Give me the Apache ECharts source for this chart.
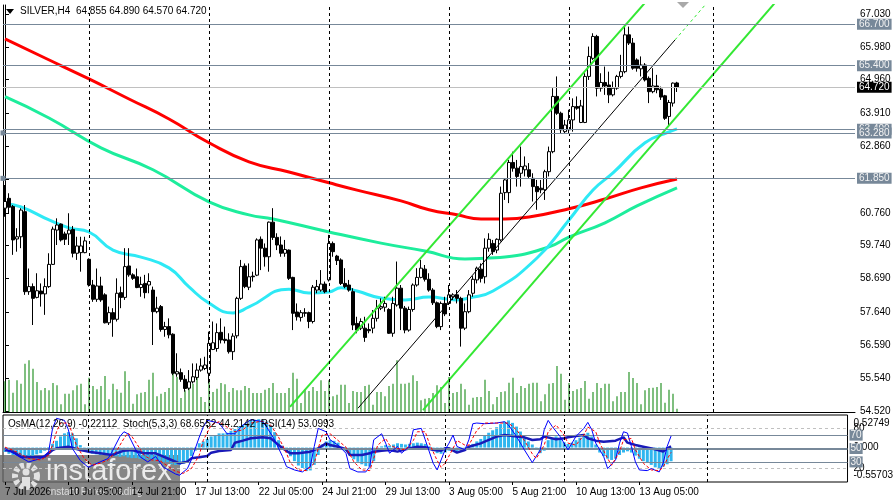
<!DOCTYPE html>
<html>
<head>
<meta charset="utf-8">
<script src="https://cdn.jsdelivr.net/npm/echarts@6/dist/echarts.min.js"></script>
<style>
html, body { margin: 0; padding: 0; background: #fff; }
#main { width: 896px; height: 500px; }
</style>
</head>
<body>
<div id="main"></div>
<script>
// SILVER H4 bars, [open, high, low, close]
var ohlc = [
  [60.91,61.64,60.64,61.12],[61.22,61.38,60.75,60.94],[60.96,61.01,59.44,59.91],[59.94,60.28,59.54,60.01],[60.01,60.91,59.65,60.85],
  [60.80,61.01,58.18,58.28],[58.28,59.01,58.18,58.44],[58.44,58.54,57.23,58.07],[58.10,58.86,58.07,58.31],[58.30,58.54,57.81,58.21],
  [58.21,58.70,57.55,58.44],[58.44,59.49,58.40,59.14],[59.14,60.33,59.12,60.25],[60.22,60.59,59.75,60.38],[60.41,60.43,59.86,59.91],
  [60.10,60.17,59.75,59.93],[60.10,60.75,59.75,60.22],[60.24,60.35,59.36,59.49],[59.49,60.01,59.28,59.72],[59.51,60.01,58.91,59.72],
  [59.51,60.01,59.49,59.88],[59.30,59.33,58.44,58.49],[58.49,58.65,57.96,58.04],[58.04,59.01,57.96,58.46],[58.46,58.75,57.96,58.02],
  [58.18,58.23,57.28,57.30],[57.30,57.81,57.23,57.62],[57.62,57.76,56.86,57.41],[57.41,58.70,57.34,58.23],[58.25,58.44,57.76,58.10],
  [58.10,59.65,58.02,59.07],[59.09,59.65,58.75,58.81],[58.81,58.86,58.65,58.70],[58.75,59.01,58.39,58.41],[58.41,58.75,58.12,58.51],
  [58.54,58.81,58.07,58.25],[58.49,58.86,58.23,58.60],[58.33,58.44,56.60,57.65],[57.65,58.12,57.60,57.76],[57.81,57.86,57.02,57.09],
  [57.09,57.33,56.86,57.18],[57.18,57.44,56.81,56.92],[56.94,56.97,55.65,55.71],[55.69,56.34,55.60,55.76],[55.73,55.86,55.44,55.52],
  [55.52,55.65,55.13,55.23],[55.24,55.81,55.18,55.44],[55.44,56.02,55.39,55.60],[55.58,56.02,55.50,55.81],[55.81,56.18,55.76,55.94],
  [55.86,56.23,55.81,55.97],[55.71,57.02,55.39,56.65],[56.46,57.34,56.44,56.67],[56.49,57.28,56.39,56.99],[57.00,57.44,56.65,56.76],
  [56.78,57.18,56.65,56.74],[56.76,56.97,56.33,56.39],[56.39,56.97,56.13,56.88],[56.89,58.12,56.81,58.07],[58.07,59.28,58.02,59.07],
  [59.09,59.17,58.39,58.44],[58.42,59.17,58.33,58.75],[58.77,58.91,58.60,58.75],[58.80,59.96,58.77,59.91],[59.93,60.02,58.96,59.65],
  [59.65,59.80,59.07,59.38],[59.38,60.49,58.91,60.47],[60.47,60.91,59.91,59.99],[59.99,60.12,59.59,59.75],[59.75,60.02,59.38,59.49],
  [59.49,59.91,59.38,59.61],[59.59,59.61,58.65,58.70],[58.73,58.75,57.07,57.60],[57.64,57.91,57.37,57.49],[57.47,57.70,57.34,57.62],
  [57.62,57.76,57.49,57.60],[57.62,57.65,57.13,57.34],[57.34,58.49,57.28,58.42],[58.33,58.65,58.23,58.44],[58.33,58.96,58.28,58.52],
  [58.52,58.60,58.23,58.28],[58.65,60.07,58.60,59.80],[59.80,59.86,59.38,59.54],[59.40,59.44,59.12,59.26],[59.28,59.33,58.49,58.54],
  [58.54,59.02,58.39,58.44],[58.49,58.65,58.28,58.33],[58.28,58.39,57.07,57.23],[57.28,57.49,56.97,57.07],[57.13,57.44,57.07,57.34],
  [57.13,57.49,56.70,56.84],[57.09,57.28,56.97,57.05],[57.13,57.70,56.97,57.44],[57.44,58.02,57.34,57.76],[57.76,58.07,57.70,57.81],
  [57.79,58.12,57.65,57.91],[57.72,57.76,56.95,56.97],[56.97,58.12,56.86,57.91],[57.86,59.23,57.81,58.39],[58.39,58.49,57.07,57.76],
  [57.76,57.83,56.97,57.07],[57.07,57.81,57.02,57.72],[57.72,58.54,57.65,58.49],[58.49,59.02,58.44,58.73],[58.73,59.28,58.70,59.02],
  [58.99,59.12,58.60,58.67],[58.67,58.86,58.28,58.33],[58.33,58.39,57.86,57.93],[57.93,57.97,57.13,57.18],[57.18,57.97,57.07,57.91],
  [57.91,58.12,57.51,57.58],[57.91,58.49,57.86,58.18],[58.12,58.23,58.02,58.18],[58.18,58.33,57.91,58.07],[58.07,58.12,56.55,57.13],
  [57.13,57.91,57.07,57.65],[57.65,58.33,57.60,58.18],[58.23,58.77,58.12,58.67],[58.65,59.07,58.54,59.02],[58.99,59.17,58.57,58.70],
  [58.75,59.96,58.54,59.65],[59.65,60.12,59.54,59.93],[59.80,59.91,59.44,59.54],[59.59,59.96,59.49,59.93],[59.91,61.59,59.86,61.38],
  [61.40,61.85,61.17,61.80],[61.40,62.43,61.07,62.35],[62.35,62.69,62.06,62.17],[62.17,62.43,61.59,61.91],[62.01,62.85,61.59,62.22],
  [62.12,62.54,61.91,62.24],[62.12,62.33,61.85,61.91],[61.85,62.01,61.12,61.59],[61.59,61.80,60.86,61.43],[61.54,61.80,61.38,61.49],
  [61.49,62.12,61.17,62.06],[62.06,62.85,61.91,62.69],[62.69,64.69,62.64,64.43],[64.43,65.06,63.85,63.90],[63.90,63.95,63.27,63.38],
  [63.32,63.69,63.27,63.53],[63.38,64.01,63.27,63.69],[63.69,64.37,63.32,64.11],[64.11,64.43,64.01,64.06],[63.61,64.32,63.59,64.13],
  [63.61,65.16,63.59,65.06],[65.06,66.00,64.95,65.69],[65.63,66.42,65.58,66.32],[66.32,66.37,64.43,64.69],[64.69,65.16,64.58,64.87],
  [64.87,65.37,64.48,64.76],[64.79,65.21,64.22,64.48],[64.48,64.90,64.43,64.69],[64.69,65.11,64.64,65.06],[65.06,65.74,65.00,65.21],
  [65.21,66.65,65.16,66.37],[66.37,66.63,66.05,66.11],[66.11,66.27,65.27,65.32],[65.58,65.63,65.21,65.32],[65.30,65.69,65.06,65.42],
  [65.42,65.48,64.90,64.95],[65.00,65.06,64.22,64.58],[64.58,65.32,64.53,64.76],[64.76,65.11,64.53,64.64],[64.66,64.74,64.32,64.41],
  [64.45,64.48,63.69,63.74],[63.80,64.32,63.53,64.24],[64.22,64.87,64.11,64.85],[64.855,64.89,64.57,64.72]
];

// tick volumes
var volumes = [
  3070,3230,1930,3170,2830,4830,5170,4330,3000,2170,2400,2170,2900,2670,770,1830,1830,2170,2670,2830,
  770,3430,2600,2270,2600,3600,1270,2830,2270,1930,4070,3100,830,1770,1930,2000,3230,3930,1570,1830,
  2000,2400,3930,3500,1400,2170,2500,2830,3500,1500,1000,3000,2000,2330,2900,2770,2000,2400,2170,2170,
  2600,2400,1900,1900,1900,2230,2400,2900,1900,1900,1900,2400,3930,3330,900,2270,2100,2500,2100,3170,
  2100,3170,1570,1730,2730,2730,900,2100,2000,2000,2600,2730,730,2000,2000,1570,2600,2830,5170,2830,
  2830,2930,3670,3100,1170,1330,1400,1900,2670,2500,900,3500,1900,2000,2830,2270,730,1430,1500,1500,
  3230,2100,770,1500,2000,2070,2930,3430,1900,2600,2400,2830,2930,2930,1070,1770,2830,2900,4600,3830,
  1230,2900,2100,2270,2400,3100,1330,2000,2900,2400,2830,2830,1070,1570,2000,2000,4000,3400,2900,770,
  2170,2400,2430,2500,2900,930,2230,1830,330
];

// moving averages, [bar index, price]
var maRed = [[0,66.24],[10,65.64],[21,64.98],[31,64.35],[41,63.72],[51,62.97],[61,62.37],[71,62.05],[81,61.71],[88,61.48],
  [99,61.14],[106,60.86],[113,60.70],[119,60.57],[125,60.57],[131,60.63],[141,60.89],[150,61.20],[159,61.55],[168,61.83]];
var maGreen = [[0,64.42],[11,63.75],[24,62.81],[37,62.12],[51,61.11],[61,60.70],[67,60.57],[81,60.16],[94,59.81],[105,59.56],
  [115,59.31],[121,59.34],[125,59.37],[136,59.69],[141,60.00],[150,60.45],[158,60.98],[168,61.55]];
var maCyan = [[0,61.04],[4,60.95],[11,60.54],[16,60.29],[21,60.16],[27,59.59],[34,59.37],[41,59.03],[46,58.43],[51,57.92],
  [57,57.61],[61,57.80],[71,58.36],[76,58.24],[81,58.27],[84,58.40],[88,58.30],[94,58.08],[100,58.02],[106,58.11],
  [113,58.02],[116,58.08],[122,58.30],[133,59.34],[141,60.54],[147,61.48],[152,62.02],[160,62.97],[166,63.31],[168,63.41]];

// equidistant channel, [bar index, price]
var chanUpper = [[71.25,54.65],[160,67.38]];
var chanMiddle = [[88.25,54.61],[167.5,66.21]];
var chanMiddleExt = [[167.5,66.21],[175.5,67.38]];
var chanLower = [[104.5,54.55],[192.5,67.38]];

// horizontal levels
var levels = [66.70, 65.40, 63.40, 63.28, 61.85];
var selectedLevels = [63.28, 61.85];
var lastPrice = 64.72;

// indicators
var osma = [
  -0.07,-0.10,-0.12,-0.13,-0.12,-0.13,-0.14,-0.13,-0.11,-0.09,-0.05,0.01,0.06,0.11,0.18,0.23,0.25,0.23,0.15,0.04,
  -0.04,-0.08,-0.10,-0.11,-0.12,-0.12,-0.13,-0.14,-0.14,-0.15,-0.14,-0.16,-0.17,-0.17,-0.18,-0.19,-0.19,-0.20,-0.21,-0.22,
  -0.23,-0.25,-0.27,-0.28,-0.28,-0.26,-0.22,-0.14,-0.05,0.07,0.10,0.14,0.18,0.20,0.23,0.23,0.24,0.27,0.30,0.34,
  0.37,0.39,0.44,0.45,0.46,0.45,0.42,0.36,0.25,0.12,0.03,-0.06,-0.14,-0.22,-0.29,-0.33,-0.38,-0.37,-0.28,-0.12,
  0.05,0.10,0.12,0.11,0.08,0.01,-0.06,-0.13,-0.19,-0.23,-0.27,-0.30,-0.31,-0.22,-0.05,0.02,0.04,0.03,0.05,0.07,
  0.06,0.05,0.06,0.07,0.08,0.07,0.06,0.02,-0.05,-0.09,-0.10,-0.08,-0.05,-0.04,-0.06,-0.05,-0.02,0.02,0.06,0.10,
  0.14,0.20,0.24,0.28,0.33,0.38,0.42,0.44,0.40,0.34,0.26,0.17,0.10,0.05,-0.01,-0.09,-0.05,0.12,0.15,0.18,
  0.14,0.09,0.06,0.08,0.12,0.16,0.20,0.24,0.18,0.05,-0.08,-0.14,-0.18,-0.20,-0.18,-0.12,-0.08,-0.06,-0.08,-0.13,
  -0.18,-0.22,-0.25,-0.28,-0.32,-0.33,-0.31,-0.27,-0.22112
];
var stochMain = [[0,50],[3,40],[6,30],[9,35],[11,45],[12,80],[13,95],[15,92],[16,78],[17,50],[19,32],[21,22],[24,30],[26,35],
  [27,45],[29,68],[30,75],[31,72],[33,48],[34,38],[36,30],[38,38],[40,22],[43,12],[44,10],[46,20],[47,33],[49,67],[50,82],
  [51,92],[54,88],[56,72],[58,72],[60,85],[62,93],[65,90],[66,82],[68,63],[70,38],[71,23],[73,18],[75,15],[77,23],[78,53],
  [79,80],[81,75],[82,63],[84,55],[86,43],[87,20],[89,15],[91,15],[92,23],[93,63],[95,72],[96,58],[97,43],[99,53],[100,43],
  [102,53],[103,78],[105,80],[106,63],[108,28],[109,18],[111,48],[112,58],[113,70],[114,53],[116,48],[117,63],[118,87],
  [119,88],[121,87],[124,88],[126,90],[127,85],[129,68],[131,48],[133,29],[135,48],[136,78],[137,92],[138,83],[140,68],
  [141,58],[142,48],[144,68],[146,80],[147,89],[148,78],[149,58],[151,38],[152,20],[154,33],[155,58],[156,75],[157,73],
  [158,53],[159,30],[160,18],[162,17],[163,20],[165,15],[166,28],[167,53],[168,68.6552]];
var stochSignal = [[0,52],[3,45],[6,35],[9,33],[11,40],[12,55],[13,75],[14,88],[16,88],[17,72],[18,55],[20,35],[22,25],
  [24,28],[26,33],[28,45],[30,65],[31,73],[32,68],[34,50],[35,40],[37,33],[39,32],[41,24],[43,16],[45,13],[47,20],[49,40],
  [50,62],[52,85],[54,90],[56,82],[58,75],[60,78],[62,88],[65,91],[67,85],[69,67],[71,43],[72,28],[74,18],[76,17],[78,28],
  [79,50],[80,70],[82,72],[84,62],[86,52],[88,30],[90,18],[92,17],[93,35],[94,55],[96,65],[97,55],[99,50],[101,48],[103,62],
  [104,75],[106,75],[107,58],[109,32],[110,22],[111,28],[113,50],[114,62],[116,55],[117,55],[119,77],[121,88],[124,88],
  [127,88],[129,78],[131,62],[133,42],[134,35],[136,55],[137,75],[139,85],[141,70],[142,58],[144,55],[146,70],[147,82],
  [149,75],[150,58],[152,35],[153,25],[155,45],[156,63],[158,65],[159,48],[161,28],[163,18],[165,17],[166,22],[167,34],
  [168,44.2142]];
var rsi = [[0,47.8],[2,45.3],[4,37.8],[7,36.8],[10,37.8],[12,47.8],[13,50.3],[16,52.7],[19,47.8],[21,45.3],[24,42.8],
  [27,40.3],[30,46.8],[32,47.8],[35,42.8],[38,42.8],[42,32.8],[44,27.9],[46,30.4],[47,35.3],[49,36.8],[51,38.8],[52,43.8],
  [54,46.3],[57,47.8],[58,58.7],[60,61.7],[62,65.2],[65,66.7],[67,65.2],[68,60.2],[70,50.3],[72,42.8],[74,42.8],[77,45.3],
  [79,50.3],[81,57.7],[82,55.2],[84,52.7],[86,48.8],[87,40.3],[90,40.3],[92,42.8],[93,45.3],[95,46.8],[97,47.8],[99,45.3],
  [101,48.8],[104,52.7],[106,51.8],[108,47.8],[110,46.8],[111,50.3],[112,50.3],[114,43.8],[116,47.8],[117,52.7],[120,57.7],
  [121,60.2],[124,67.7],[126,70.2],[128,68.7],[131,66.7],[133,62.7],[135,63.7],[136,67.7],[139,63.7],[141,65.2],[142,66.7],
  [144,68.7],[146,70.2],[147,65.2],[149,61.7],[151,60.2],[154,61.7],[156,66.7],[157,58.7],[159,55.2],[161,52.7],[164,48.8],
  [166,45.3],[167,50.3],[168,53.0993]];

// axes
var priceTicks = [67.03, 65.98, 64.96, 63.91, 62.86, 61.81, 60.76, 59.74, 58.69, 57.64, 56.59, 55.54, 54.52];
var priceMin = 54.49, priceMax = 67.31;
var osmaMin = -0.55703, osmaMax = 0.52749;
var osmaLabelAt = [0.40, 0, -0.45];
var stochLabels = [80, 20];
var weekLines = [21, 51, 81, 111, 141, 177];
var xLabels = ['7 Jul 2026', '10 Jul 05:00', '14 Jul 21:00', '17 Jul 13:00', '22 Jul 05:00', '24 Jul 21:00',
  '29 Jul 13:00', '3 Aug 05:00', '5 Aug 21:00', '10 Aug 13:00', '13 Aug 05:00'];
var labelEvery = 16;
var nCats = 213;

var FONT = 'Liberation Sans';
var SLATE = '#778899';

var cats = [];
for (var i = 0; i < nCats; i++) cats.push(i);

var candleData = ohlc.map(function (r) { return [r[0], r[3], r[2], r[1]]; });
var last = ohlc[ohlc.length - 1];
var f3 = function (v) { return v.toFixed(3); };

var levelMarks = levels.map(function (v) {
  var item = { yAxis: v };
  if (selectedLevels.indexOf(v) >= 0) item.symbol = ['emptyRect', 'emptyRect'];
  return item;
});
levelMarks.push({
  yAxis: lastPrice,
  lineStyle: { color: '#c0c0c0', type: 'solid', width: 1 },
  label: { backgroundColor: '#000', color: '#fff' }
});

var weekMarks = weekLines.map(function (v) { return { xAxis: v }; });
var weekLineStyle = { color: '#000', type: [3, 3], width: 1 };

function labelFilter(idx) { return idx % labelEvery === 0 && idx / labelEvery < xLabels.length; }

var myChart = echarts.init(document.getElementById('main'));

var option = {
  animation: false,
  backgroundColor: '#fff',
  textStyle: { fontFamily: FONT },
  grid: [
    { left: 3, top: 5, width: 852, height: 407 },
    { left: 3, top: 415, width: 852, height: 67, show: true, borderColor: '#000', borderWidth: 1, backgroundColor: '#fff' }
  ],
  xAxis: [
    { gridIndex: 0, type: 'category', data: cats, boundaryGap: true,
      axisLine: { show: true, lineStyle: { color: '#000' } }, axisTick: { show: false }, axisLabel: { show: false }, splitLine: { show: false } },
    { gridIndex: 0, type: 'value', min: -0.5, max: nCats - 0.5, show: false },
    { gridIndex: 1, type: 'category', data: cats, boundaryGap: true,
      axisLine: { show: false },
      axisTick: { show: true, interval: labelFilter, alignWithLabel: true, length: 3, lineStyle: { color: '#000' } },
      axisLabel: { show: true, interval: labelFilter, align: 'left', margin: 5, fontSize: 10, color: '#000',
        formatter: function (v, idx) { return xLabels[idx / labelEvery]; } },
      splitLine: { show: false } },
    { gridIndex: 1, type: 'value', min: -0.5, max: nCats - 0.5, show: false }
  ],
  yAxis: [
    { gridIndex: 0, type: 'value', position: 'right', min: priceMin, max: priceMax,
      splitLine: { show: false },
      axisLine: { show: true, lineStyle: { color: '#000' } },
      axisTick: { show: true, customValues: priceTicks, length: 4, lineStyle: { color: '#000' } },
      axisLabel: { customValues: priceTicks, formatter: f3, color: '#000', fontSize: 10, margin: 5 } },
    { gridIndex: 0, type: 'value', position: 'left', min: 0, max: 40700,
      splitLine: { show: false }, axisLabel: { show: false }, axisTick: { show: false },
      axisLine: { show: true, lineStyle: { color: '#000' } } },
    { gridIndex: 1, type: 'value', position: 'right', min: 0, max: 100,
      splitLine: { show: false }, axisLine: { show: false },
      axisTick: { show: false },
      axisLabel: { customValues: stochLabels, color: '#000', fontSize: 10, margin: 6 } },
    { gridIndex: 1, type: 'value', position: 'right', min: osmaMin, max: osmaMax,
      splitLine: { show: false }, axisLine: { show: false }, axisTick: { show: false },
      axisLabel: { customValues: osmaLabelAt, color: '#000', fontSize: 10, margin: 6,
        formatter: function (v) { return v > 0 ? osmaMax.toFixed(5) : (v < 0 ? osmaMin.toFixed(5) : '0.000'); } } }
  ],
  series: [
    { type: 'bar', name: 'Volume', xAxisIndex: 0, yAxisIndex: 1, data: volumes, barWidth: 1,
      itemStyle: { color: '#008000' }, silent: true, z: 1 },
    { type: 'line', name: 'MA red', xAxisIndex: 1, yAxisIndex: 0, data: maRed, smooth: true, showSymbol: false,
      lineStyle: { color: '#ff0000', width: 3 }, silent: true, z: 2,
      markLine: { silent: true, symbol: 'none', label: { show: false }, lineStyle: weekLineStyle, data: weekMarks } },
    { type: 'line', name: 'MA green', xAxisIndex: 1, yAxisIndex: 0, data: maGreen, smooth: true, showSymbol: false,
      lineStyle: { color: '#1ded9c', width: 3 }, silent: true, z: 2 },
    { type: 'line', name: 'MA cyan', xAxisIndex: 1, yAxisIndex: 0, data: maCyan, smooth: true, showSymbol: false,
      lineStyle: { color: '#2ee9f5', width: 3 }, silent: true, z: 2 },
    { type: 'candlestick', name: 'SILVER,H4', xAxisIndex: 0, yAxisIndex: 0, data: candleData, barWidth: 3,
      itemStyle: { color: '#fff', color0: '#000', borderColor: '#000', borderColor0: '#000', borderWidth: 1 }, z: 3,
      markLine: { silent: true, symbol: 'none', symbolSize: 5,
        lineStyle: { color: SLATE, type: 'solid', width: 1 },
        label: { show: true, position: 'end', distance: 2, formatter: function (p) { return f3(p.value); },
          color: '#f2f2f2', backgroundColor: SLATE, padding: [1, 2, 0, 2], fontSize: 10, fontFamily: FONT },
        data: levelMarks } },
    { type: 'line', name: 'Channel upper', xAxisIndex: 1, yAxisIndex: 0, data: chanUpper, showSymbol: false,
      lineStyle: { color: '#33e833', width: 2 }, silent: true, z: 4 },
    { type: 'line', name: 'Channel middle', xAxisIndex: 1, yAxisIndex: 0, data: chanMiddle, showSymbol: false,
      lineStyle: { color: '#000', width: 1 }, silent: true, z: 4 },
    { type: 'line', name: 'Channel middle ext', xAxisIndex: 1, yAxisIndex: 0, data: chanMiddleExt, showSymbol: false,
      lineStyle: { color: '#33e833', width: 1, type: [3, 3] }, silent: true, z: 4 },
    { type: 'line', name: 'Channel lower', xAxisIndex: 1, yAxisIndex: 0, data: chanLower, showSymbol: false,
      lineStyle: { color: '#33e833', width: 2 }, silent: true, z: 4 },

    { type: 'bar', name: 'OsMA', xAxisIndex: 2, yAxisIndex: 3, data: osma, barWidth: 3,
      itemStyle: { color: '#2fb6ef' }, silent: true, z: 2 },
    { type: 'line', name: 'RSI', xAxisIndex: 3, yAxisIndex: 2, data: rsi, showSymbol: false,
      lineStyle: { color: '#1a1ab8', width: 2.5 }, silent: true, z: 4,
      markLine: { silent: true, symbol: 'none',
        label: { show: true, position: 'end', distance: 2, color: '#f2f2f2', backgroundColor: SLATE,
          padding: [1, 1, 0, 1], fontSize: 10, fontFamily: FONT, formatter: function (p) { return String(p.value); } },
        data: [
          { yAxis: 80, lineStyle: { color: '#c0c0c0', type: [3, 3], width: 1 }, label: { show: false } },
          { yAxis: 20, lineStyle: { color: '#c0c0c0', type: [3, 3], width: 1 }, label: { show: false } },
          { yAxis: 70, lineStyle: { color: SLATE, type: 'solid', width: 1 } },
          { yAxis: 30, lineStyle: { color: SLATE, type: 'solid', width: 1 } },
          { yAxis: 50, lineStyle: { color: SLATE, type: 'solid', width: 2 } }
        ].concat(weekLines.map(function (v) { return { xAxis: v, lineStyle: weekLineStyle, label: { show: false } }; })) } },
    { type: 'line', name: 'Stoch main', xAxisIndex: 3, yAxisIndex: 2, data: stochMain, showSymbol: false,
      lineStyle: { color: '#0000ff', width: 1 }, silent: true, z: 5 },
    { type: 'line', name: 'Stoch signal', xAxisIndex: 3, yAxisIndex: 2, data: stochSignal, showSymbol: false,
      lineStyle: { color: '#ff0000', width: 1, type: [3, 2] }, silent: true, z: 5 }
  ],
  graphic: [
    { type: 'polygon', shape: { points: [[6, 9], [14, 9], [10, 14]] }, style: { fill: '#000' }, z: 50 },
    { type: 'text', x: 20, y: 6, z: 50,
      style: { text: 'SILVER,H4  ' + last[0].toFixed(3) + ' ' + last[1].toFixed(3) + ' ' + last[2].toFixed(3) + ' ' + last[3].toFixed(3),
        font: '10px "Liberation Sans"', fill: '#000' } },
    { type: 'polygon', shape: { points: [[677, 2], [689, 2], [683, 8]] }, style: { fill: '#a9a9a9' }, z: 50 },
    { type: 'text', x: 8, y: 419, z: 50,
      style: { text: 'OsMA(12,26,9) ' + osma[osma.length - 1].toFixed(5) +
        '  Stoch(5,3,3) ' + stochMain[stochMain.length - 1][1].toFixed(4) + ' ' + stochSignal[stochSignal.length - 1][1].toFixed(4) +
        '  RSI(14) ' + rsi[rsi.length - 1][1].toFixed(4),
        font: '10px "Liberation Sans"', fill: '#000' } },
    { type: 'group', z: 100, children: [
      { type: 'rect', shape: { x: 0, y: 455, width: 180, height: 45 }, style: { fill: 'rgba(100,100,100,0.78)' } },
      { type: 'circle', shape: { cx: 26, cy: 476, r: 11 }, style: { fill: 'none', stroke: '#e2e2e2', lineWidth: 6, lineDash: [4, 2.5] } },
      { type: 'circle', shape: { cx: 26, cy: 472, r: 3.5 }, style: { fill: '#e2e2e2' } },
      { type: 'rect', shape: { x: 22, y: 477, width: 8, height: 9 }, style: { fill: '#e2e2e2' } },
      { type: 'text', x: 46, y: 457, style: { text: 'instaforex', font: '29px "Liberation Sans"', fill: '#ececec' } },
      { type: 'text', x: 48, y: 487, style: { text: 'Instant Forex Trading', font: '10px "Liberation Sans"', fill: '#dcdcdc' } }
    ] }
  ]
};

myChart.setOption(option);
</script>
</body>
</html>
